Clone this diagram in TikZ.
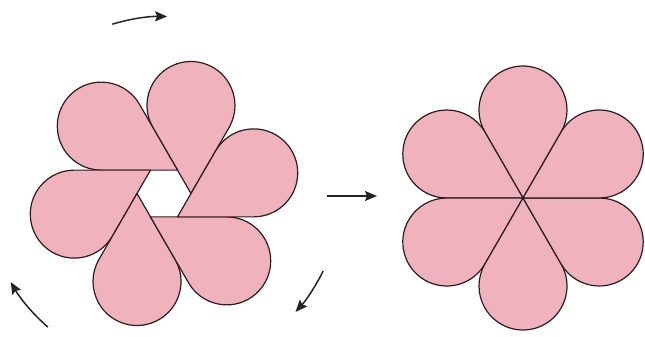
\documentclass[tikz,border=0pt]{standalone}
\usetikzlibrary{arrows.meta,calc}
\definecolor{petalpink}{RGB}{240,178,189}
\definecolor{petalline}{RGB}{45,28,30}
\definecolor{arrowgray}{RGB}{35,35,35}
\tikzset{
  petalshape/.style={fill=petalpink, draw=petalline, line width=1.2pt, line join=round},
  turnarrow/.style={draw=arrowgray, line width=1.5pt, -{Stealth[length=12pt,width=10pt,inset=2pt]}},
}
% teardrop petal: apex at #1, axis at angle #2
\newcommand\drawpetal[2]{%
  \draw[petalshape, shift={#1}, rotate=#2] (0,0) -- (66,38.105)
    arc[start angle=120, end angle=-120, radius=44] -- cycle;}
\begin{document}
\begin{tikzpicture}[x=1pt,y=1pt]
\useasboundingbox (0,0) rectangle (645,337);
% left flower (pinwheel), hexagon hole centre
\coordinate (lc) at (164,143.5);
\foreach \t in {90,150,210,270,330,30}{
  \pgfmathsetmacro\va{\t-90}
  \drawpetal{($(lc)+(\va:27)$)}{\t}
}
% right flower
\coordinate (rc) at (523,139);
\foreach \t in {90,150,210,270,330,30}{
  \drawpetal{(rc)}{\t}
}
% rotation arrows round the left flower
\coordinate (t1) at ($(lc)+(107:177)$);
\coordinate (b1) at ($(lc)+(229:177)$);
\coordinate (r1) at ($(lc)+(-26:177)$);
\draw[turnarrow] (t1) arc[start angle=107, end angle=89, radius=177];
\draw[turnarrow] (b1) arc[start angle=229, end angle=210, radius=177];
\draw[turnarrow] (r1) arc[start angle=-26, end angle=-42, radius=177];
% middle arrow
\coordinate (m1) at (327,141);
\coordinate (m2) at (377,141);
\draw[turnarrow] (m1) -- (m2);
\end{tikzpicture}
\end{document}
